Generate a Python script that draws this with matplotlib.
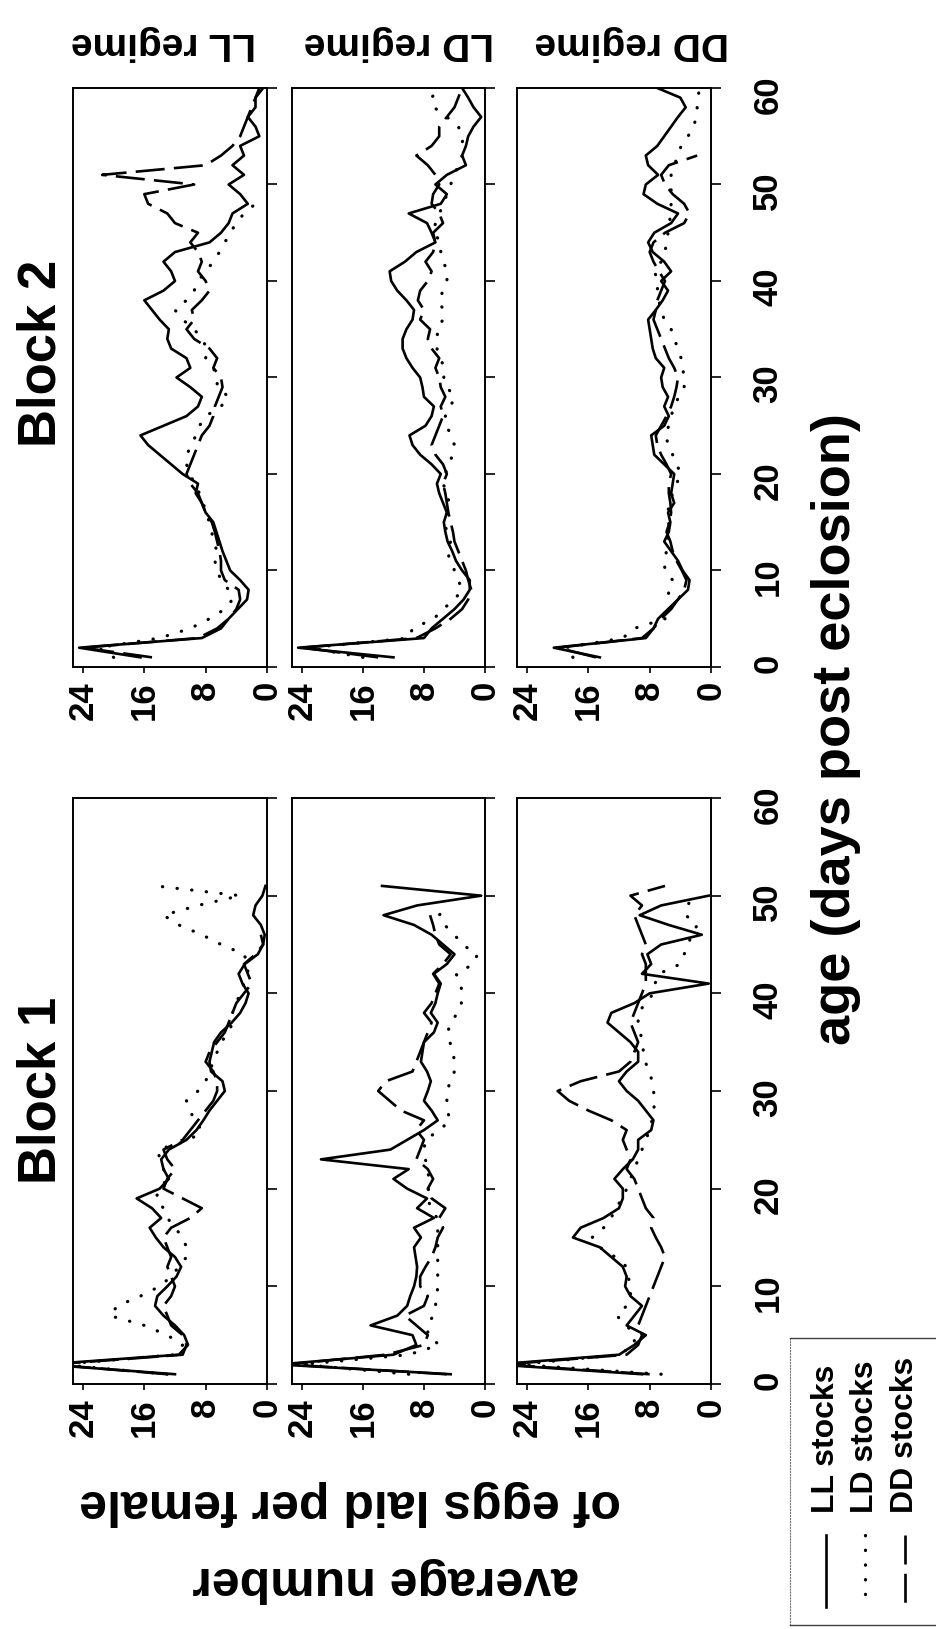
import matplotlib
matplotlib.use('Agg')
import matplotlib.pyplot as plt

plt.rcParams['font.family'] = ['Liberation Sans', 'DejaVu Sans']
plt.rcParams['font.weight'] = 'bold'

# age in days post eclosion
days_b1 = list(range(1, 52))
days_b2 = list(range(1, 61))

regimes = ['LL regime', 'LD regime', 'DD regime']
stocks = ['LL stocks', 'LD stocks', 'DD stocks']
egg_ticks = [0, 8, 16, 24]
age_ticks = [0, 10, 20, 30, 40, 50, 60]

# ---- Block 1 (eggs per female, one value per day) ----
b1_LL_ll = [12, 29, 11.5, 10.3, 10.8, 12, 13.5, 14.6, 14.3, 13, 11.8, 11.2, 12, 13.5, 14.5, 15.3, 13.8, 15, 17, 14,
            12.8, 13.5, 13.8, 12.8, 10.5, 9.2, 8.3, 7.5, 6.5, 5.5, 5.8, 7.3, 7.5, 7.2, 6.9, 6, 4.6, 3.5, 2.8, 2.4,
            3.2, 3.7, 2.9, 1.2, 0.5, 0.3, 0.8, 1.8, 1.5, 0.6, 0.2]
b1_LL_ld = [13, 27, 12, 11, 13, 16, 20.5, 19.5, 16.5, 14, 12.5, 11.5, 10.5, 10.5, 11, 12, 13, 13.5, 14.5, 14,
            13, 13.5, 14, 14.2, 10, 8.5, 9.5, 10, 10.5, 9, 8, 7.5, 7, 6.5, 6, 5, 4.5, 4.5, 4, 3.5,
            3, 2.5, 2.5, 3, 6, 8.5, 11.5, 13.5, 9, 3.5, 14.5]
b1_LL_dd = [13, 28, 11, 10.5, 11, 12.5, 13, 13.5, 12.5, 12, 12.5, 13, 12.5, 13, 13.5, 12.5, 10, 8.5, 11, 13.5,
            13, 12, 13, 13.5, 11, 10, 9, 8, 7, 6.5, 6.5, 7, 8, 7.5, 6.5, 5.5, 5, 4.5, 4, 3,
            2, 2.5, 3, 1.5, 0.5, 0.8]

b1_LD_ll = [4.5, 27, 12, 9, 9.5, 15, 11.5, 10.2, 9.8, 9.3, 9, 8.9, 9.1, 9.3, 8.4, 9.3, 6.7, 8.9, 7.6, 10.2,
            12, 10, 21.5, 12.4, 10.2, 8, 6.2, 7, 8, 7.5, 7.1, 7.6, 8.4, 8.2, 8, 6.7, 6.2, 7.1, 6.5, 6.2,
            5.8, 6.7, 5, 4, 5.5, 7, 9.3, 13.3, 8.9, 0.5, 13.5]
b1_LD_ld = [10, 24, 10, 6, 7.5, 7.5, 6.8, 6.5, 6.3, 6.2, 6.2, 6.2, 6.2, 6.2, 6.2, 6.2, 6.3, 7, 7.6, 7.4,
            7.3, 7.6, 7.8, 8, 7.8, 6, 4.5, 5, 5, 4.9, 4.6, 4, 4, 4.2, 4.6, 4.9, 4.5, 3.6, 3.1, 3.1,
            3.1, 3.8, 1.5, 1, 3, 4, 5.3, 6, 5]
b1_LD_dd = [5, 26, 13, 8, 7.5, 9, 10.5, 8, 7.5, 8.5, 8.5, 7.8, 7, 6.5, 6.2, 5.5, 6, 5.2, 7, 7.5,
            6.8, 7.5, 9, 8.5, 8, 9, 8, 11, 12.5, 14, 13, 9.5, 9, 8.5, 8, 7.5, 7, 8, 7, 6.5,
            6, 6.8, 5.5, 4.5, 6, 6.5, 6.8, 7.2]

b1_DD_ll = [9, 28, 12, 10, 8.5, 11, 10, 9, 10.5, 11.2, 11, 11.5, 13, 14.5, 18, 17, 14, 12, 11.5, 11.5,
            12.6, 11.5, 10.2, 9.5, 9.5, 7.8, 7.5, 8.5, 9.5, 11, 12, 11, 9.5, 9.5, 10.5, 12, 13.5, 13, 10, 8,
            0.3, 9, 7.8, 8.3, 6.5, 1.2, 5.5, 9.3, 6.5, 0.3]
b1_DD_ld = [6.5, 25, 12, 10, 10, 11, 12.3, 11, 10.5, 10.5, 10.8, 11, 12.5, 14.5, 15.5, 14, 13, 12.5, 11.5, 11,
            10.5, 10, 9.5, 9, 8.5, 8, 7.7, 7.5, 7.3, 7.5, 7.7, 8, 8.6, 8.8, 9, 9.2, 9.5, 9.5, 8.5, 7.5,
            7.3, 6.8, 4, 3.5, 3, 2.5, 1.8, 3.3, 3, 2.5]
b1_DD_dd = [8, 27, 11, 9.5, 9, 9.5, 9, 8.5, 8, 7.5, 7, 6.5, 6, 6.5, 7.2, 7.8, 7.5, 8.5, 9, 9.5,
            10, 11, 10.5, 11, 11.5, 11, 13, 16, 18.5, 20, 17, 12, 10.5, 10, 9.5, 10, 10.5, 10, 9.5, 9,
            8.5, 8.5, 8.5, 9, 8.5, 9, 9.5, 10, 9, 10.5, 6]

# ---- Block 2 ----
b2_LL_ll = [16.5, 24.5, 8.5, 6, 5, 3.8, 2.6, 2.4, 3.5, 4.8, 5.3, 5.8, 6.2, 6.6, 7, 8, 8.5, 9.3, 9, 11,
            12.5, 14, 15.5, 16.5, 13.5, 10.5, 9, 8.5, 10, 11.8, 10, 10.5, 12.5, 13, 12.8, 14, 15, 16, 13.5, 12,
            12.5, 13.5, 12, 7.5, 6, 5, 4.5, 2.5, 3.5, 5, 3, 4.5, 3, 3.5, 1, 1.5, 2.5, 1.5, 1.5, 0.5]
b2_LL_ld = [20, 22, 14, 10, 7.5, 5.5, 4.5, 5, 6, 6.5, 6.8, 6.5, 7, 7.2, 7.5, 8, 8.3, 8.8, 9.5, 10,
            10.5, 10.5, 9.8, 9.3, 8.8, 8, 6, 5, 6.5, 6.5, 7, 8, 7.8, 8.5, 9.5, 11, 12, 10.5, 9.5, 9,
            8, 7, 6.2, 5.5, 4.8, 4, 3, 1.5, 2]
b2_LL_dd = [15, 24, 9, 6.5, 5, 4, 3.5, 3.7, 5.5, 6, 6, 6.2, 6.5, 6.8, 7.2, 8, 8.5, 9, 10, 10.5,
            10, 9.5, 9, 8.5, 7.5, 7, 6.8, 6.3, 5.8, 6, 7, 6.5, 7.5, 9.5, 10.5, 9.5, 9.8, 8.5, 7.5, 8,
            9, 8.5, 9, 10, 9, 12, 13, 15.5, 16, 9.5, 21.5, 8, 6, 4.5, 3.5, 3, 2.5, 2, 1.5, 1]

b2_LD_ll = [12, 24.5, 8, 7, 5.5, 4, 2.8, 2, 2, 3, 3.8, 4.3, 4.9, 5.2, 5.4, 5, 5.5, 6, 6.3, 5.8,
            7, 8.5, 9.5, 9.9, 7.8, 7, 6.7, 8, 8.2, 8.5, 9.5, 10.3, 10.8, 10.8, 10.3, 9.5, 9.3, 10.3, 11.5, 12.3,
            12.5, 10.5, 9, 6.5, 7, 7.6, 10, 5.8, 5, 6.5, 5, 2.5, 3, 2.5, 2.2, 1.5, 0.5, 1.5, 2.2, 3]
b2_LD_ld = [16, 23, 10, 9.5, 6.7, 5.5, 4, 3, 3.5, 4, 4.5, 5, 4.5, 5, 5.3, 5, 4.7, 5, 5.5, 5.2,
            4.8, 4.2, 4, 4.5, 5, 5.2, 4.5, 4, 5, 5.4, 5.4, 5.8, 6.3, 6.2, 6.3, 5.5, 5.5, 6, 5.5, 5,
            4.9, 5.5, 5.8, 5.8, 6.7, 6.5, 6, 5.4, 5, 4.5, 4, 3.5, 3, 3, 2.9, 3.5, 5, 6.7, 7, 6]
b2_LD_dd = [14, 24, 9, 6.5, 4.5, 3, 2.2, 1.8, 2.2, 2.5, 3, 3.5, 4, 4.2, 4.5, 4.8, 5, 5.2, 5.5, 5,
            5.5, 6.5, 7, 6.5, 6, 5.5, 5.8, 5.2, 5.8, 6, 6.5, 6, 7, 7.5, 7.2, 8.5, 8, 8.8, 8.5, 7.5,
            7, 7.8, 6.8, 6.5, 6.8, 5.5, 6, 7, 6.8, 6, 6.5, 7.5, 9, 7, 6, 6, 5, 4, 3.5, 3]

b2_DD_ll = [14.5, 20.5, 8.5, 7.5, 6.9, 5.6, 4.3, 3, 2.8, 3.7, 4.3, 5.2, 6.1, 5.5, 5.3, 5.6, 4.8, 5.2, 5, 4.8,
            6.1, 7.4, 7.6, 7.8, 6.1, 5.5, 6.1, 5.6, 6.3, 6.5, 6.1, 7.2, 7.6, 7.8, 8, 8.2, 7.2, 6.3, 5.6, 6.5,
            5.2, 6.1, 7.6, 8.2, 7.4, 5.2, 4.3, 7, 8.8, 8.5, 6.9, 8.2, 8.5, 7, 6.1, 5.2, 4.3, 3.3, 4, 7]
b2_DD_ld = [18, 19, 11.5, 10, 6, 5, 5.6, 5.5, 5, 6, 6.1, 5.8, 5.5, 5.6, 5.5, 5.6, 5.5, 5, 4.5, 3.9,
            4.5, 5, 5.5, 6, 5.5, 5.2, 4.8, 4.2, 3.5, 3.5, 3.7, 3.9, 4.3, 4.8, 5.2, 6.1, 6.5, 6.8, 7, 6.9,
            7.4, 6.5, 6, 5.8, 5.6, 5.4, 5.3, 5.2, 5.2, 5.2, 5.2, 4.8, 4.3, 3.9, 3, 2.2, 2, 1.8, 1.7, 1.5]
b2_DD_dd = [15, 20, 9, 7.5, 6.5, 5.2, 4.3, 3.5, 3.2, 3.8, 4.5, 5, 5.3, 5.8, 5.4, 5.2, 5.3, 5.5, 5.5, 5.2,
            5.8, 6.5, 7, 7.2, 6.5, 5.8, 5.2, 4.8, 4.5, 4.3, 4.8, 5.5, 6, 6.5, 7, 7.5, 7.2, 7, 6.5, 6,
            6.8, 7.5, 8, 7.5, 6, 3.5, 2.8, 3.5, 5, 6, 6.5, 5.5, 1.8]

blocks = [
    (days_b1, [[b1_LL_ll, b1_LL_ld, b1_LL_dd], [b1_LD_ll, b1_LD_ld, b1_LD_dd], [b1_DD_ll, b1_DD_ld, b1_DD_dd]]),
    (days_b2, [[b2_LL_ll, b2_LL_ld, b2_LL_dd], [b2_LD_ll, b2_LD_ld, b2_LD_dd], [b2_DD_ll, b2_DD_ld, b2_DD_dd]]),
]

# line style for LL, LD, DD stocks
styles = [
    dict(ls='-', lw=1.9),
    dict(ls=(0, (0.1, 4.5)), lw=2.3, dash_capstyle='round'),
    dict(ls=(0, (11, 3.5)), lw=1.9),
]

W, H = 937, 1629
fig = plt.figure(figsize=(W / 100, H / 100), dpi=100)

def fx(px):
    return px / W

def fy(py):
    return 1 - py / H

col_px = [(73, 267), (292, 485), (517, 711)]
row_px = [(798, 1384), (88, 667)]   # block 1, block 2

for b, (days, panels) in enumerate(blocks):
    top, bot = row_px[b]
    for c in range(3):
        x0, x1 = col_px[c]
        ax = fig.add_axes([fx(x0), fy(bot), (x1 - x0) / W, (bot - top) / H])
        for k in range(3):
            vals = panels[c][k]
            ax.plot(vals, days[:len(vals)], color='black', **styles[k])
        ax.set_xlim(25.3, 0)
        ax.set_ylim(0, 60)
        ax.set_xticks(egg_ticks, labels=[str(t) for t in egg_ticks], fontsize=25, fontweight='bold')
        ax.set_yticks(age_ticks, labels=[str(t) for t in age_ticks], fontsize=25, fontweight='bold')
        ax.yaxis.tick_right()
        ax.tick_params(axis='x', direction='out', length=4, width=1.2, pad=6, labelrotation=90)
        ax.tick_params(axis='y', direction='out', length=7, width=1.2, pad=22, labelrotation=90,
                       labelright=(c == 2), labelleft=False)
        for s in ax.spines.values():
            s.set_linewidth(1.4)

# regime labels (upside down at the top)
for name, cx in zip(regimes, [164, 399, 632]):
    fig.text(fx(cx), fy(43), name, rotation=180, ha='center', va='center', fontsize=28, fontweight='bold')

fig.text(fx(42), fy(1090), 'Block 1', rotation=90, ha='center', va='center', fontsize=38, fontweight='bold')
fig.text(fx(42), fy(353), 'Block 2', rotation=90, ha='center', va='center', fontsize=38, fontweight='bold')

fig.text(fx(836), fy(729), 'age (days post eclosion)', rotation=90, ha='center', va='center',
         fontsize=39, fontweight='bold')

fig.text(fx(350), fy(1503), 'of eggs laid per female', rotation=180, ha='center', va='center',
         fontsize=36, fontweight='bold')
fig.text(fx(386), fy(1580), 'average number', rotation=180, ha='center', va='center',
         fontsize=36, fontweight='bold')

# legend box
lx0, ly0, ly1 = 790, 1338, 1625
lax = fig.add_axes([fx(lx0), fy(ly1), (W - lx0) / W, (ly1 - ly0) / H])
lax.set_xlim(lx0, W)
lax.set_ylim(ly1, ly0)
lax.set_xticks([])
lax.set_yticks([])
lax.spines['right'].set_visible(False)
lax.spines['left'].set_linestyle(':')
lax.spines['left'].set_color('0.45')
lax.spines['left'].set_linewidth(0.8)
for s in ['top', 'bottom']:
    lax.spines[s].set_linewidth(1.0)
    lax.spines[s].set_color('0.25')
for k, lx in enumerate([826, 865, 905]):
    lax.plot([lx, lx], [1535, 1607], color='black', **styles[k])
    lax.text(lx, 1513, stocks[k], rotation=90, ha='center', va='bottom', fontsize=23, fontweight='bold')

fig.savefig('out.png', dpi=100)
